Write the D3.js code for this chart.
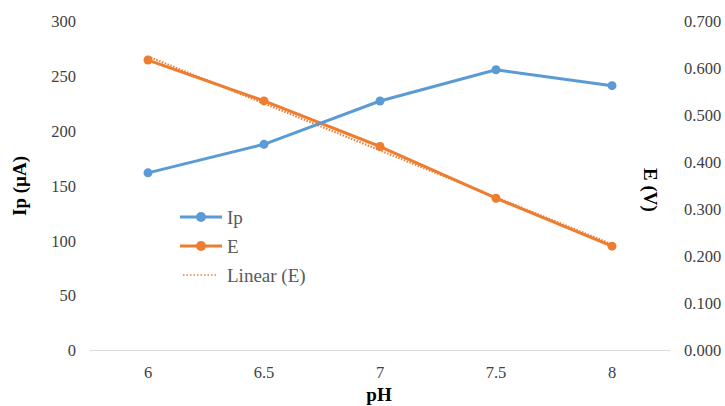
<!DOCTYPE html>
<html><head><meta charset="utf-8">
<script src="https://cdn.jsdelivr.net/npm/d3@7"></script>
<style>body{margin:0;background:#fff}svg{display:block}</style>
</head><body>
<svg id="c" width="725" height="406"></svg>
<script>
const categories = ["6", "6.5", "7", "7.5", "8"];
const ipValues = [162, 188, 227.5, 256, 241.5];
const eValues = [0.618, 0.531, 0.434, 0.324, 0.222];
const leftTicks = [0, 50, 100, 150, 200, 250, 300];
const rightTicks = [0, 0.1, 0.2, 0.3, 0.4, 0.5, 0.6, 0.7];

const svg = d3.select("#c");
const font = "'Liberation Serif','Times New Roman',serif";
const blue = "#5B9BD5", orange = "#ED7D31";

const x = d3.scalePoint().domain(categories).range([148, 612]);
const yL = d3.scaleLinear().domain([0, 300]).range([350.5, 21.5]);
const yR = d3.scaleLinear().domain([0, 0.7]).range([350.5, 21.5]);

// baseline gridline
svg.append("line").attr("x1", 90).attr("x2", 670).attr("y1", yL(0)).attr("y2", yL(0))
  .attr("stroke", "#d9d9d9").attr("stroke-width", 1);

// left axis labels
svg.append("g").selectAll("text").data(leftTicks).join("text")
  .attr("x", 76).attr("y", d => yL(d)).attr("dy", "0.35em")
  .attr("text-anchor", "end").attr("font-family", font).attr("font-size", 16.5)
  .attr("fill", "#404040").text(d => d);

// right axis labels
svg.append("g").selectAll("text").data(rightTicks).join("text")
  .attr("x", 684).attr("y", d => yR(d)).attr("dy", "0.35em")
  .attr("text-anchor", "start").attr("font-family", font).attr("font-size", 16.5)
  .attr("fill", "#404040").text(d => d3.format(".3f")(d));

// category labels
svg.append("g").selectAll("text").data(categories).join("text")
  .attr("x", d => x(d)).attr("y", 378)
  .attr("text-anchor", "middle").attr("font-family", font).attr("font-size", 16.5)
  .attr("fill", "#404040").text(d => d);

// axis titles
svg.append("text").attr("x", 379).attr("y", 401).attr("text-anchor", "middle")
  .attr("font-family", font).attr("font-size", 19).attr("font-weight", "bold")
  .attr("fill", "#000").text("pH");
svg.append("text").attr("transform", "translate(26,186) rotate(-90)").attr("text-anchor", "middle")
  .attr("font-family", font).attr("font-size", 19).attr("font-weight", "bold")
  .attr("fill", "#000").text("Ip (µA)");
svg.append("text").attr("transform", "translate(644,190) rotate(90)").attr("text-anchor", "middle")
  .attr("font-family", font).attr("font-size", 19).attr("font-weight", "bold")
  .attr("fill", "#000").text("E (V)");

// trendline (least squares over category index)
const n = eValues.length;
const xs = d3.range(n);
const mx = d3.mean(xs), my = d3.mean(eValues);
const slope = d3.sum(xs, i => (i - mx) * (eValues[i] - my)) / d3.sum(xs, i => (i - mx) ** 2);
const icpt = my - slope * mx;
const xi = d3.scaleLinear().domain([0, n - 1]).range([x(categories[0]), x(categories[n - 1])]);
svg.append("line")
  .attr("x1", xi(0)).attr("y1", yR(icpt))
  .attr("x2", xi(n - 1)).attr("y2", yR(icpt + slope * (n - 1)))
  .attr("stroke", orange).attr("stroke-width", 2.2).attr("stroke-dasharray", "1.5,1.5");

function series(vals, y, color) {
  const line = d3.line().x((d, i) => x(categories[i])).y(d => y(d));
  svg.append("path").datum(vals).attr("d", line).attr("fill", "none")
    .attr("stroke", color).attr("stroke-width", 3).attr("stroke-linejoin", "round");
  svg.append("g").selectAll("circle").data(vals).join("circle")
    .attr("cx", (d, i) => x(categories[i])).attr("cy", d => y(d)).attr("r", 4.5).attr("fill", color);
}
series(eValues, yR, orange);
series(ipValues, yL, blue);

// legend
const legend = [
  {label: "Ip", color: blue, type: "marker", y: 217},
  {label: "E", color: orange, type: "marker", y: 246},
  {label: "Linear (E)", color: orange, type: "dotted", y: 275}
];
const lg = svg.append("g");
legend.forEach(l => {
  if (l.type === "marker") {
    lg.append("line").attr("x1", 180).attr("x2", 222).attr("y1", l.y).attr("y2", l.y)
      .attr("stroke", l.color).attr("stroke-width", 3);
    lg.append("circle").attr("cx", 201).attr("cy", l.y).attr("r", 5).attr("fill", l.color);
  } else {
    lg.append("line").attr("x1", 183).attr("x2", 218).attr("y1", l.y).attr("y2", l.y)
      .attr("stroke", l.color).attr("stroke-width", 1.5).attr("stroke-dasharray", "1.5,2");
  }
  lg.append("text").attr("x", 227).attr("y", l.y).attr("dy", "0.35em")
    .attr("font-family", font).attr("font-size", 19).attr("fill", "#595959").text(l.label);
});
</script>
</body></html>
